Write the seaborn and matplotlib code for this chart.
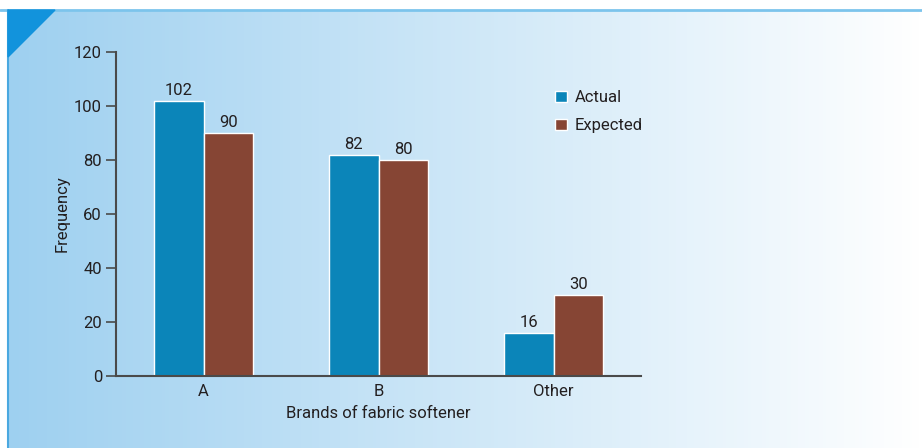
import numpy as np
import pandas as pd
import matplotlib.pyplot as plt
import matplotlib.patches as mpatches
import seaborn as sns

brands = ["A", "B", "Other"]
actual = [102, 82, 16]
expected = [90, 80, 30]
series = ["Actual", "Expected"]
yticks = [0, 20, 40, 60, 80, 100, 120]

df = pd.DataFrame({
    "brand": brands * 2,
    "freq": actual + expected,
    "kind": [series[0]] * len(brands) + [series[1]] * len(brands),
})

sns.set_style("ticks")
plt.rcParams["font.family"] = ["Roboto", "DejaVu Sans"]
txt = "#231f20"
spine = "#4a4a4a"
fs = 12

fig = plt.figure(figsize=(9.22, 4.48), dpi=100)

# gradient panel background
bg = fig.add_axes([0, 0, 1, 1], zorder=-5)
grad = np.linspace(0, 1, 256)
c0 = np.array([158, 208, 240]) / 255
c1 = np.array([255, 255, 255]) / 255
img = (c0[None, :] * (1 - grad[:, None]) + c1[None, :] * grad[:, None])[None, :, :]
bg.imshow(img, extent=[8, 922, 0, 438], aspect="auto")
bg.set_xlim(0, 922)
bg.set_ylim(0, 448)
bg.axhspan(438, 448, color="white", zorder=2)
bg.plot([0, 922], [438.5, 438.5], color="#7cc4ec", lw=2, zorder=3)
bg.plot([8, 8], [0, 438.5], color="#4aa8e0", lw=1.5, zorder=3)
bg.add_patch(mpatches.Polygon([[8, 438], [55, 438], [8, 391]], closed=True,
                              color="#1293dc", zorder=4))
bg.axis("off")

ax = fig.add_axes([116 / 922, 1 - 376 / 448, 525 / 922, 324 / 448])
ax.set_facecolor("none")
sns.barplot(data=df, x="brand", y="freq", hue="kind", order=brands,
            hue_order=series, palette=["#0b85b9", "#864534"], saturation=1,
            width=0.571, edgecolor="white", linewidth=1, ax=ax)

for cont in ax.containers:
    ax.bar_label(cont, padding=2, fontsize=fs, color=txt)

ax.set_xlim(-0.5, 2.5)
ax.set_ylim(0, 120)
ax.set_yticks(yticks)
ax.tick_params(axis="y", length=7, width=1.2, color=spine, labelsize=fs,
               labelcolor=txt, pad=3)
ax.tick_params(axis="x", length=0, labelsize=fs, labelcolor=txt, pad=6)
for s in ["top", "right"]:
    ax.spines[s].set_visible(False)
for s in ["left", "bottom"]:
    ax.spines[s].set_color(spine)
    ax.spines[s].set_linewidth(1.5)

ax.set_xlabel("Brands of fabric softener", fontsize=fs, color=txt, labelpad=5)
ax.set_ylabel("Frequency", fontsize=fs, color=txt, labelpad=3)

leg = ax.legend(loc="upper left", bbox_to_anchor=(0.836, 0.882), frameon=False,
                borderpad=0, borderaxespad=0, fontsize=fs, handlelength=0.7,
                handleheight=0.7, handletextpad=0.5, labelspacing=0.78,
                labelcolor=txt)
for h in leg.legend_handles:
    h.set_edgecolor("white")

fig.savefig("out.png", dpi=100)
